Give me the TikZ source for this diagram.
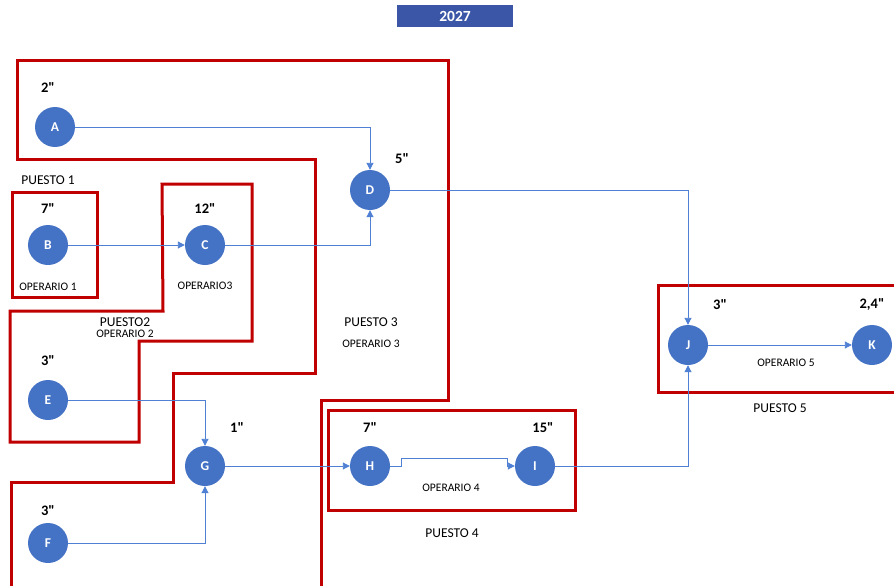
\documentclass[tikz,border=0pt]{standalone}
\usepackage{fontspec}
\setmainfont{Carlito}[Ligatures=TeXOff]
\usetikzlibrary{arrows.meta}
\definecolor{nodeblue}{HTML}{4472C4}
\definecolor{linkblue}{HTML}{4F80D4}
\definecolor{puestored}{HTML}{C00000}
\definecolor{titleblue}{HTML}{3B56A6}

\begin{document}
\begin{tikzpicture}[x=1pt,y=-1pt,
  task/.style={circle,fill=nodeblue,minimum size=40pt,inner sep=0pt,
    text=white,font=\fontsize{13.5}{14}\selectfont\bfseries},
  link/.style={draw=linkblue,line width=0.9pt,-{Triangle[length=7pt,width=7pt]}},
  zone/.style={draw=puestored,line width=3pt,line join=miter},
  dur/.style={font=\fontsize{14.5}{15}\selectfont\bfseries},
  puesto/.style={font=\fontsize{13.5}{14}\selectfont},
  oper/.style={font=\fontsize{11.5}{12}\selectfont}]

\useasboundingbox (0,0) rectangle (894,586);
\clip (0,0) rectangle (894,586);

% title
\node[fill=titleblue,minimum width=116pt,minimum height=22pt,inner sep=0pt,
  text=white,font=\fontsize{15.5}{16}\selectfont\bfseries] (title) at (455,16) {2027};

% workstation outlines
\draw[zone] (11,590) -- (11,482) -- (173,482) -- (173,373) -- (315,373)
  -- (315,159) -- (17,159) -- (17,61) -- (448,61) -- (448,400) -- (321,400) -- (321,590);
\draw[zone] (12,192) rectangle (97,297);
\draw[zone] (162,184) -- (252,184) -- (252,341) -- (139,341) -- (139,442)
  -- (10,442) -- (10,311) -- (163,311) -- cycle;
\draw[zone] (328,410) rectangle (575,510);
\draw[zone] (900,285) -- (658,285) -- (658,392) -- (900,392);

% tasks
\node[task] (A) at (55,127) {A};
\node[task] (B) at (48,245) {B};
\node[task] (C) at (205,245) {C};
\node[task] (D) at (370,190) {D};
\node[task] (E) at (48,400) {E};
\node[task] (F) at (48,543) {F};
\node[task] (G) at (205,466) {G};
\node[task] (H) at (370,466) {H};
\node[task] (I) at (535,466) {I};
\node[task] (J) at (688,345) {J};
\node[task] (K) at (872,345) {K};

% durations
\node[dur] (tA) at (48,88) {2"};
\node[dur] (tB) at (48,209) {7"};
\node[dur] (tC) at (205,209) {12"};
\node[dur] (tD) at (402,159) {5"};
\node[dur] (tE) at (48,361) {3"};
\node[dur] (tF) at (48,511) {3"};
\node[dur] (tG) at (237,428) {1"};
\node[dur] (tH) at (370,428) {7"};
\node[dur] (tI) at (543,428) {15"};
\node[dur] (tJ) at (720,305) {3"};
\node[dur] (tK) at (872,305) {2,4"};

% station and operator labels
\node[puesto] (p1) at (48,180) {PUESTO 1};
\node[oper] (o1) at (48,287) {OPERARIO 1};
\node[oper] (o3c) at (205,286) {OPERARIO3};
\node[puesto] (p2) at (125,322) {PUESTO2};
\node[oper] (o2) at (125,334) {OPERARIO 2};
\node[puesto] (p3) at (371,322) {PUESTO 3};
\node[oper] (o3) at (371,344) {OPERARIO 3};
\node[oper] (o4) at (451,488) {OPERARIO 4};
\node[puesto] (p4) at (452,533) {PUESTO 4};
\node[oper] (o5) at (786,363) {OPERARIO 5};
\node[puesto] (p5) at (780,408) {PUESTO 5};

% precedence links
\draw[link] (A.east) -| (D.north);
\draw[link] (B) -- (C);
\draw[link] (C.east) -| (D.south);
\draw[link] (D.east) -| (J.north);
\draw[link] (E.east) -| (G.north);
\draw[link] (F.east) -| (G.south);
\draw[link] (G) -- (H);
\draw[link] (H.east) -- ++(11,0) -- ++(0,-8) -| ([xshift=-7pt]I.west) -- (I.west);
\draw[link] (I.east) -| (J.south);
\draw[link] (J) -- (K);
\end{tikzpicture}
\end{document}
